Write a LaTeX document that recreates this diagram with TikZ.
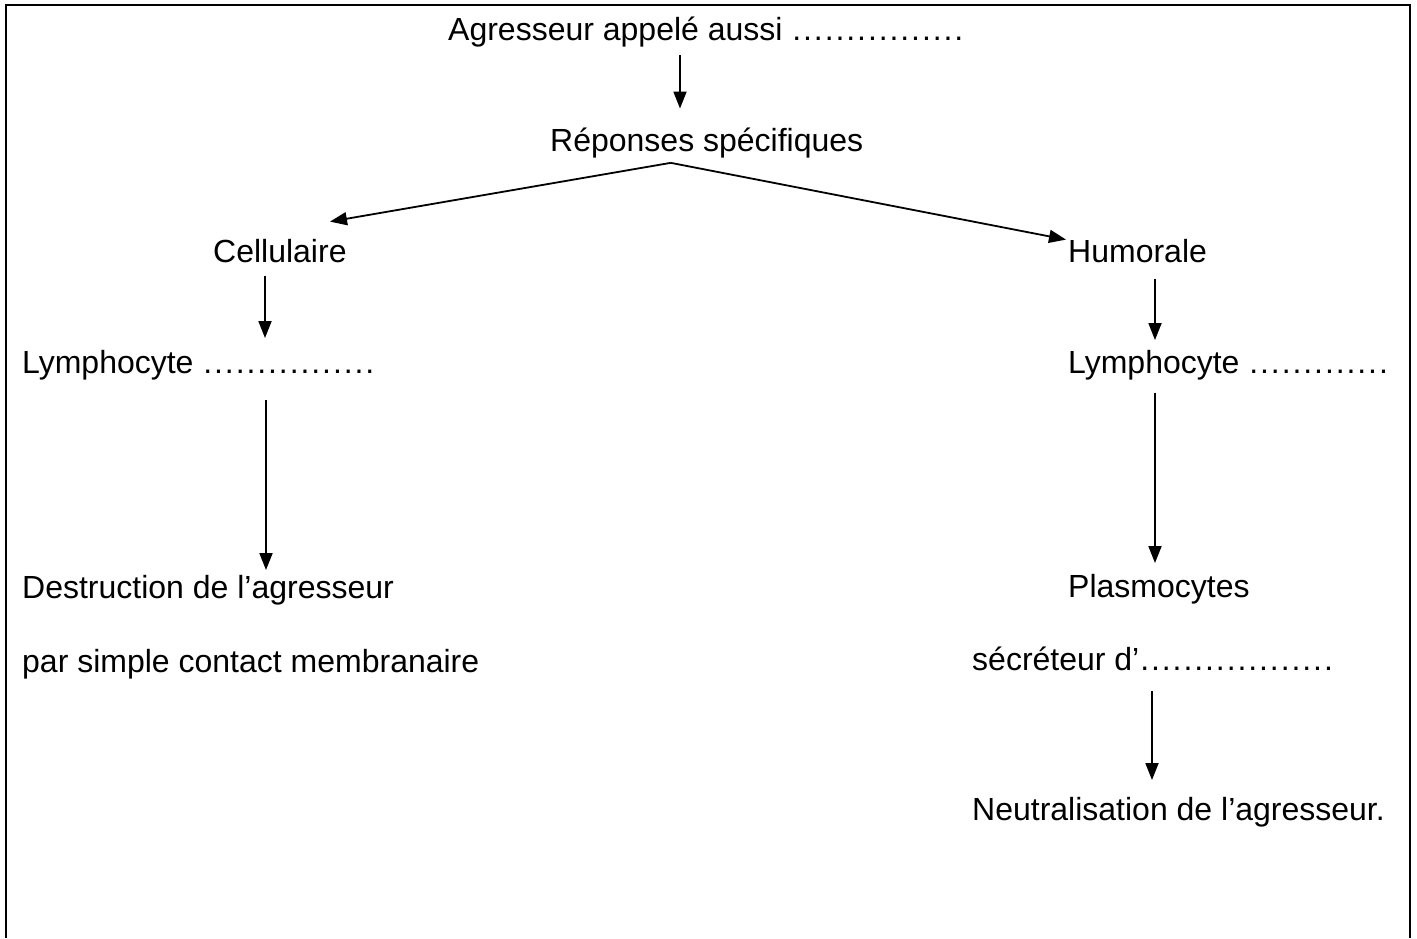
\documentclass[tikz,border=0pt]{standalone}
\usepackage{fontspec}
\setmainfont{Liberation Sans}
\usetikzlibrary{arrows.meta}
\newcount\mydotcnt
\newcommand\pdots[1]{\mydotcnt=0 \loop\hbox to 10.8pt{\hss.\hss}\advance\mydotcnt by 1 \ifnum\mydotcnt<#1 \repeat}
\tikzset{
  lbl/.style={anchor=base west, inner sep=0pt, font=\fontsize{32}{38}\selectfont},
  arr/.style={line width=1.8pt, -{Triangle[length=17pt,width=13pt]}},
  frame/.style={line width=2.2pt}
}
\begin{document}
\begin{tikzpicture}[x=1pt,y=-1pt]
\useasboundingbox (0,0) rectangle (1417,938);
\draw[frame] (6,938) -- (6,5) -- (1410,5) -- (1410,938);

\node[lbl] (agr) at (448,40) {Agresseur appelé aussi \pdots{16}};
\node[lbl] (rep) at (550,151) {Réponses spécifiques};
\node[lbl] (cel) at (213,262) {Cellulaire};
\node[lbl] (hum) at (1068,262) {Humorale};
\node[lbl] (lymL) at (22,373) {Lymphocyte \pdots{16}};
\node[lbl] (lymR) at (1068,373) {Lymphocyte \pdots{13}};
\node[lbl] (des) at (22,598) {Destruction de l’agresseur};
\node[lbl] (par) at (22,672) {par simple contact membranaire};
\node[lbl] (pla) at (1068,597) {Plasmocytes};
\node[lbl] (sec) at (972,670) {sécréteur d’\pdots{18}};
\node[lbl] (neu) at (972,820) {Neutralisation de l’agresseur.};

\coordinate (xa) at (680,0);
\coordinate (xb) at (265,0);
\coordinate (xc) at (266,0);
\coordinate (xd) at (1155,0);
\coordinate (xe) at (1152,0);

\draw[arr, shorten <=8pt, shorten >=18.7pt] (agr.south -| xa) -- (rep.north -| xa);
\coordinate (apex) at ([xshift=-36pt,yshift=-5pt]rep.south);
\draw[arr] (apex) -- ([xshift=117pt,yshift=17pt]cel.north west);
\draw[arr] (apex) -- ([xshift=-2pt,yshift=-1pt]hum.north west);
\draw[arr, shorten <=13pt, shorten >=11.6pt] (cel.south -| xb) -- (lymL.north -| xb);
\draw[arr, shorten <=20pt, shorten >=4.6pt] (lymL.south -| xc) -- (des.north -| xc);
\draw[arr, shorten <=16pt, shorten >=9.6pt] (hum.south -| xd) -- (lymR.north -| xd);
\draw[arr, shorten <=13pt, shorten >=10.6pt] (lymR.south -| xd) -- (pla.north -| xd);
\draw[arr, shorten <=20pt, shorten >=16.6pt] (sec.south -| xe) -- (neu.north -| xe);
\end{tikzpicture}
\end{document}
